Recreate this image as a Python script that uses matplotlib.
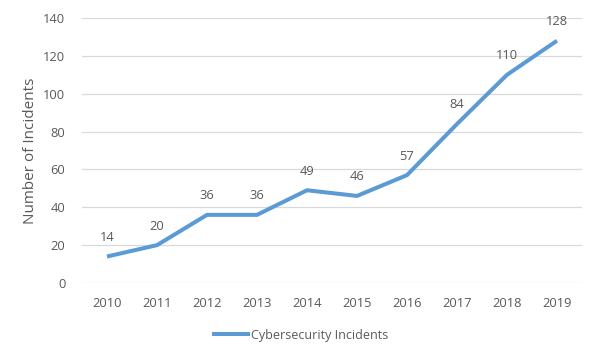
import matplotlib
matplotlib.use("Agg")
import matplotlib.pyplot as plt

years = ["2010", "2011", "2012", "2013", "2014", "2015", "2016", "2017", "2018", "2019"]
incidents = [14, 20, 36, 36, 49, 46, 57, 84, 110, 128]
series_name = "Cybersecurity Incidents"
y_ticks = [0, 20, 40, 60, 80, 100, 120, 140]

plt.rcParams['font.family'] = ['Open Sans', 'DejaVu Sans']
txt = '#595959'

fig = plt.figure(figsize=(6, 3.59), dpi=100)
ax = fig.add_axes([82/600, 1-283/359, 500/600, 265/359])
x = list(range(len(years)))
ax.plot(x, incidents, color='#5B9BD5', lw=2.9, solid_capstyle='butt', solid_joinstyle='round', label=series_name)
for xi, v in zip(x, incidents):
    ax.annotate(str(v), (xi, v), xytext=(0, 9), textcoords='offset points',
                ha='center', va='bottom', fontsize=9.3, color=txt)
ax.set_xlim(-0.5, len(years) - 0.5)
ax.set_ylim(0, 140)
ax.set_yticks(y_ticks)
ax.set_xticks(x)
ax.set_xticklabels(years)
ax.tick_params(length=0, labelsize=9.3, colors=txt)
ax.tick_params(axis='x', pad=10)
ax.tick_params(axis='y', pad=12)
ax.grid(axis='y', color='#D9D9D9', lw=0.9)
ax.set_axisbelow(True)
for s in ax.spines.values():
    s.set_visible(False)
ax.set_ylabel("Number of Incidents", fontsize=11, color=txt, labelpad=4)
leg = fig.legend(loc='center', bbox_to_anchor=(0.5, 1-335/359), frameon=False,
                 fontsize=9, handlelength=3, handletextpad=0.1)
for t in leg.get_texts():
    t.set_color(txt)
fig.savefig("out.png", dpi=100)
